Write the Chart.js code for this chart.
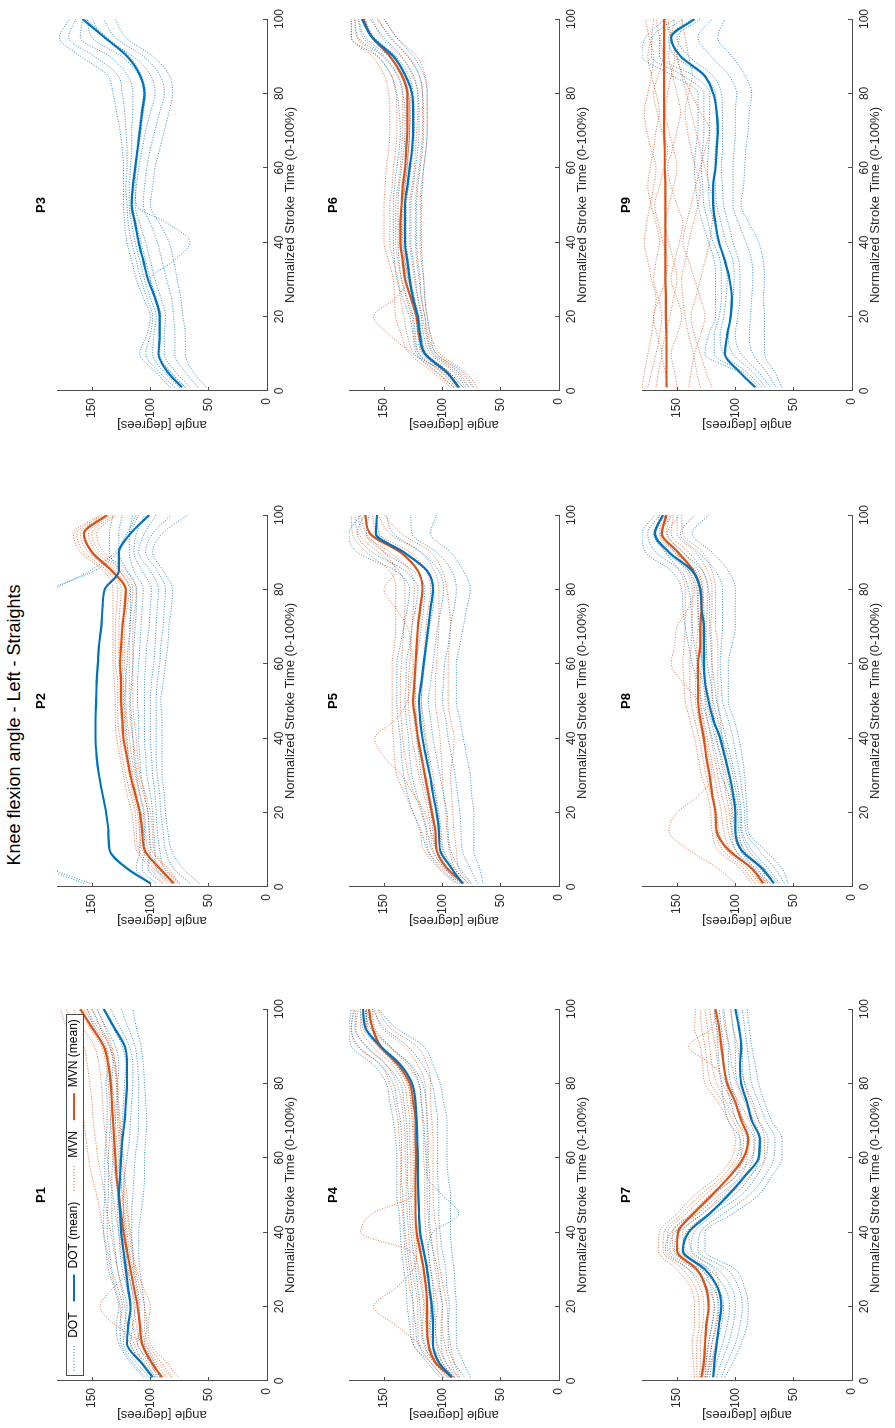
<!DOCTYPE html>
<html>
<head>
<meta charset="utf-8">
<title>Knee flexion angle - Left - Straights</title>
<script src="https://cdn.jsdelivr.net/npm/chart.js@4.4.1/dist/chart.umd.min.js"></script>
<style>
  html, body { margin: 0; padding: 0; background: #fff; }
  body { width: 895px; height: 1428px; overflow: hidden; position: relative; }
  /* the figure is laid out landscape and then turned a quarter to the left */
  #figure { position: absolute; left: 0; top: 0; width: 1428px; height: 895px;
            transform-origin: 0 0; transform: translate(0, 1428px) rotate(-90deg); }
  #figure canvas { position: absolute; }
  #suptitle { position: absolute; left: 0; top: 4px; width: 1406px; text-align: center;
              font: 18px "Liberation Sans", Arial, Helvetica, sans-serif; color: #000; }
</style>
</head>
<body>
<div id="figure">
  <div id="suptitle">Knee flexion angle - Left - Straights</div>
</div>
<script>
// shared x positions (normalized stroke time, %)
const strokeTime = [1, 5, 10, 15, 20, 25, 30, 35, 40, 45, 50, 55, 60, 65, 70, 75, 80, 85, 90, 95, 100];
const timeTicks = [0, 20, 40, 60, 80, 100];
const angleTicks = [0, 50, 100, 150];
const legendLabels = ['DOT', 'DOT (mean)', 'MVN', 'MVN (mean)'];

// P1
const dotMeanP1 = [98,108,120,119,117,119,121,123,125,126,127,126,125,124,122,121,120,120,122,131,140];
const mvnMeanP1 = [90,99,107,109,111,114,117,120,123,125,127,129,130,131,132,133,134,136,140,150,160];
const dotStrokesP1 = [
  [106,117,127,129,127,131,136,138,140,140,139,139,139,138,137,137,138,136,140,148,154],
  [104,115,125,126,124,128,133,135,137,137,136,136,136,135,134,133,133,132,135,143,150],
  [101,112,123,122,120,124,128,130,132,133,133,133,132,131,130,129,128,127,130,138,146],
  [99,108,120,118,117,120,124,126,127,128,128,128,126,125,124,123,122,121,124,132,140],
  [96,104,117,115,113,116,120,121,122,123,123,122,120,118,117,116,115,115,118,126,134],
  [94,100,111,109,109,111,114,115,116,116,115,114,113,111,110,110,110,111,113,119,125],
  [92,97,105,103,105,107,109,110,110,108,106,105,105,104,103,104,105,106,108,112,115]
];
const mvnStrokesP1 = [
  [97,109,117,125,126,130,134,137,140,143,146,150,153,155,157,159,161,163,166,172,177],
  [95,106,114,120,122,125,128,131,134,137,139,142,145,147,149,150,152,154,157,165,172],
  [92,102,111,115,117,120,122,125,127,130,132,135,137,138,140,141,142,144,148,158,166],
  [89,99,108,112,114,116,119,121,124,126,128,130,132,133,134,135,136,138,142,152,161],
  [86,96,104,108,110,112,115,118,120,122,124,125,126,127,128,128,129,131,135,145,155],
  [81,91,102,105,105,109,113,116,118,120,122,123,125,126,127,128,129,130,134,142,150],
  [76,86,100,102,100,106,112,115,117,119,120,122,123,125,126,127,128,130,133,139,145],
  [82,94,106,130,143,132,118,120,121,123,124,126,127,129,130,131,133,135,138,147,157]
];

// P2
const dotMeanP2 = [100,120,135,136,138,141,144,146,147,147,146.5,146,145,144,142,141,139,127,127,117,101];
const mvnMeanP2 = [80,92,105,107,109,113,117,120,123,124,125,125,126,125,124,122,121,133,150,157,137];
const dotStrokesP2 = [
  [100,112,109,109,109,113,117,119,120,121,122,121,120,119,117,117,117,126,135,135,132],
  [95,107,105,105,106,109,112,114,115,116,117,116,115,114,113,112,112,120,127,127,124],
  [90,102,100,101,102,105,108,109,110,110,111,111,110,109,108,107,106,114,118,118,115],
  [82,95,96,97,98,100,103,104,105,105,105,105,104,103,101,100,99,107,114,112,105],
  [75,88,92,94,95,96,98,99,100,100,100,99,97,96,95,94,93,100,110,105,95],
  [66,80,87,89,91,92,94,95,95,95,95,94,92,91,89,88,87,94,104,98,82],
  [58,72,82,85,87,88,90,90,90,90,91,89,87,85,84,82,81,89,98,90,68],
  [157,190,215,220,220,220,220,220,220,220,220,220,220,220,215,205,186,148,128,118,110],
  [152,185,205,210,212,212,212,212,212,212,212,212,212,212,208,198,182,152,130,120,112]
];
const mvnStrokesP2 = [
  [89,100,112,114,116,120,123,126,129,130,130,131,132,132,132,132,132,140,160,166,143],
  [86,97,110,112,113,117,121,124,126,128,128,128,130,130,130,129,128,137,157,163,141],
  [84,95,107,109,111,115,118,121,124,125,126,126,127,127,127,126,125,134,153,160,139],
  [81,93,104,106,108,112,115,118,121,122,123,123,124,124,124,123,121,130,150,157,137],
  [79,90,102,104,105,109,113,116,118,120,121,121,122,122,122,120,118,127,146,153,134],
  [77,87,99,101,102,106,111,113,115,117,118,118,118,118,118,116,115,124,143,150,131],
  [75,85,97,98,100,104,109,111,112,114,115,115,115,115,115,113,112,120,140,146,129]
];

// P3 (DOT only)
const dotMeanP3 = [73,85,93,92,92,96,102,106,110,113,116,115,113,111,109,107,105,109,120,139,158];
const mvnMeanP3 = [];
const dotStrokesP3 = [
  [83,95,109,103,100,106,112,116,120,122,123,123,123,124,126,129,132,137,160,178,169],
  [79,92,104,100,98,103,108,112,116,119,120,121,120,120,121,122,124,128,148,170,164],
  [75,88,98,97,95,100,105,109,113,116,118,118,117,116,116,115,115,120,135,160,158],
  [70,83,93,92,91,95,100,104,108,112,115,115,113,111,110,108,106,110,125,150,154],
  [66,78,88,88,87,91,96,100,104,109,113,112,110,107,104,100,96,100,115,140,150],
  [59,70,79,79,80,82,86,90,94,100,106,105,103,100,96,92,88,92,106,130,140],
  [52,63,70,70,72,74,77,80,84,92,100,98,96,92,88,84,81,84,98,121,130],
  [70,82,92,92,92,96,100,80,66,85,112,113,112,110,108,106,104,108,118,137,155]
];
const mvnStrokesP3 = [];

// P4
const dotMeanP4 = [92,103,108,108,109,111,113,116,119,120,120.5,121,121,121.5,122,123,126,136,153,166,168];
const mvnMeanP4 = [92,106,112,113,113,114,116,119,122,123,123,123,122.5,123,123,125,128,138,153,160,163];
const dotStrokesP4 = [
  [102,113,125,128,130,131,133,135,136,137,139,139,139,140,142,145,148,159,178,180,178],
  [99,110,121,123,125,126,128,130,132,133,134,135,135,135,136,139,142,153,172,178,176],
  [95,107,116,118,119,121,123,125,127,128,129,130,130,130,131,133,136,148,165,175,174],
  [90,102,108,110,110,112,114,116,119,120,121,121,121,121,122,123,126,137,155,168,170],
  [86,97,101,101,100,102,104,108,111,112,113,113,113,113,113,114,117,127,145,160,165],
  [81,90,95,95,94,96,97,100,102,103,103,104,104,104,104,106,109,117,130,150,160],
  [76,82,88,88,88,89,90,92,93,93,93,95,96,96,96,99,102,108,116,140,155],
  [90,100,105,106,107,108,110,112,108,86,100,113,114,115,116,118,120,128,146,162,166]
];
const mvnStrokesP4 = [
  [99,110,125,125,125,128,130,132,133,134,136,136,136,137,138,141,145,153,173,178,175],
  [96,107,120,121,121,123,126,128,129,130,131,131,132,132,133,135,139,148,166,174,172],
  [94,104,115,117,116,118,121,123,125,126,127,127,127,128,128,130,133,143,160,170,170],
  [91,100,109,111,110,113,116,118,120,120,121,121,122,122,122,124,126,136,152,164,165],
  [89,97,104,106,104,107,110,112,114,115,115,115,116,116,117,118,120,130,145,158,160],
  [87,93,98,100,100,103,106,108,110,111,111,111,112,112,113,114,115,121,133,152,158],
  [85,90,93,95,96,99,102,104,105,107,108,108,108,108,109,110,110,113,122,145,155],
  [92,105,120,140,159,140,125,122,122,123,124,124,124,124,125,127,130,140,155,165,165],
  [90,103,112,114,115,117,120,128,170,160,126,125,125,125,126,127,130,140,155,165,166]
];

// P5
const dotMeanP5 = [83,92,102,103,105,108,110.6,114,117,119,120,118,116,114,112,110,108,113,133,157,156];
const mvnMeanP5 = [82,96,105,106,109,112,115,118,121,123,125,124,123,122,121,119,117,121,136,162,166];
const dotStrokesP5 = [
  [88,102,113,118,125,130,133,135,136,138,139,139,139,136,133,130,128,140,173,180,170],
  [85,98,109,113,117,122,126,128,129,131,132,131,131,128,126,123,121,132,160,173,167],
  [82,95,105,108,110,114,118,120,122,124,125,124,123,120,118,116,115,125,150,165,163],
  [78,90,99,101,103,106,110,112,115,117,118,117,115,113,111,108,107,114,134,154,156],
  [75,85,93,95,96,99,102,105,108,110,112,110,108,106,104,101,99,103,118,142,148],
  [70,76,83,84,85,87,89,92,95,97,100,99,98,95,93,90,88,92,105,126,127],
  [65,68,73,73,73,75,76,79,82,85,88,88,88,85,82,79,76,82,93,110,105]
];
const mvnStrokesP5 = [
  [90,103,116,119,125,132,139,141,142,143,143,143,143,141,140,140,140,145,165,177,178],
  [87,100,112,114,118,124,129,132,134,135,136,136,135,134,133,132,132,137,155,172,175],
  [85,98,108,110,112,116,120,123,126,128,129,129,128,127,126,125,124,128,145,168,172],
  [82,95,104,106,108,111,114,117,120,122,123,123,122,121,120,118,117,121,136,162,166],
  [80,92,100,102,104,106,108,111,114,116,118,117,116,115,114,112,110,114,128,155,160],
  [78,89,94,96,97,99,100,101,102,104,106,106,105,104,103,103,103,107,119,145,155],
  [76,86,88,90,91,92,93,91,90,93,95,95,95,94,93,94,96,100,110,135,150],
  [82,95,105,110,115,125,135,150,158,140,130,127,125,127,130,140,150,140,150,165,170]
];

// P6
const dotMeanP6 = [86,96,115,119,121,125,128,130,132,132,132,130,128,126,125,125,126,132,142,160,169];
const mvnMeanP6 = [86,96,115,120,122,127,132,134,136,136,135,134,132,131,130,130,130,135,145,160,168];
const dotStrokesP6 = [
  [90,105,122,125,128,134,139,141,142,142,142,141,139,137,136,137,139,144,156,178,178],
  [88,101,120,123,125,130,135,137,138,138,138,137,135,133,132,132,134,139,151,172,175],
  [85,98,117,121,123,127,131,133,135,135,135,133,131,129,128,128,129,134,146,166,172],
  [82,94,113,118,120,124,127,129,131,131,131,129,127,125,124,124,125,129,140,158,167],
  [80,90,110,116,118,121,123,125,127,127,127,125,123,121,120,120,121,125,135,150,162],
  [77,86,107,113,115,118,119,121,122,122,122,121,119,117,116,116,117,120,130,144,156],
  [73,82,105,110,113,115,116,117,118,118,118,117,116,114,113,113,113,116,125,139,150]
];
const mvnStrokesP6 = [
  [93,108,128,135,140,141,142,146,150,150,150,149,148,146,145,145,146,150,160,178,178],
  [90,104,124,130,133,136,138,142,145,145,145,143,142,140,139,139,140,144,155,173,175],
  [86,100,120,124,126,131,135,138,140,140,140,138,136,135,134,134,134,138,150,168,172],
  [82,94,114,119,121,126,129,132,134,134,134,132,130,129,128,127,127,132,143,160,166],
  [78,88,108,114,117,121,124,126,128,128,128,126,124,123,122,121,121,126,136,152,160],
  [74,84,105,112,115,118,120,122,123,123,123,122,120,118,117,117,117,120,129,145,155],
  [70,80,102,110,113,115,116,118,119,119,119,118,116,114,113,113,113,115,122,139,150],
  [85,98,125,145,159,140,130,132,133,133,133,132,130,129,128,128,129,134,145,160,168]
];

// P7
const dotMeanP7 = [119,118,116,114,112,115,126,145,140,122,106,92,80,79,86,90,95,96,95,97,100];
const mvnMeanP7 = [129,127,126,125,123,125,133,150,149,136,120,105,93,89,95,100,107,110,112,114,117];
const dotStrokesP7 = [
  [126,125,123,120,118,124,140,160,155,137,120,100,95,96,106,110,112,114,115,116,118],
  [124,122,120,116,114,119,135,156,152,132,114,96,90,90,99,104,108,110,110,112,114],
  [122,120,116,112,110,115,130,152,148,128,108,92,85,84,93,98,104,106,106,108,110],
  [119,116,111,107,105,109,122,145,142,123,101,87,79,78,86,91,98,100,100,102,104],
  [116,112,106,102,100,103,115,138,135,118,95,82,74,72,80,85,92,94,94,96,98],
  [112,107,100,96,94,97,107,132,130,110,88,75,67,66,74,80,86,88,90,92,94],
  [109,102,95,90,89,92,100,126,126,102,80,69,60,60,69,75,80,83,86,88,90]
];
const mvnStrokesP7 = [
  [135,136,137,135,135,138,150,166,165,150,135,115,103,100,106,115,126,128,130,135,134],
  [133,133,133,131,131,134,145,162,161,146,130,111,99,96,102,111,121,124,126,129,130],
  [131,130,130,128,127,130,140,158,158,142,126,108,96,93,99,108,116,120,122,124,126],
  [129,127,126,124,122,125,134,153,154,138,122,104,91,88,93,102,111,115,117,120,122],
  [128,125,123,120,118,121,128,148,150,134,118,100,86,83,88,97,106,110,113,116,118],
  [126,123,120,117,115,117,123,142,145,128,111,94,80,79,84,92,99,103,105,109,111],
  [125,121,117,114,112,114,118,137,140,123,105,88,75,75,80,87,92,96,98,102,104],
  [130,128,126,124,123,126,133,150,150,136,120,105,93,89,94,100,107,120,140,120,117]
];

// P8
const dotMeanP8 = [67,77,95,100,100,102,105,109,113,119,123,126,127,127,127,129,130,137,157,169,162];
const mvnMeanP8 = [76,86,106,116,117,120,122,125,127,130,132,132,132,130,130,129,130,136,149,163,159];
const dotStrokesP8 = [
  [72,86,100,103,103,106,112,116,120,124,129,132,137,140,143,145,146,155,177,180,169],
  [70,83,96,100,100,103,108,112,117,121,125,128,132,135,137,138,140,147,168,175,165],
  [67,79,93,97,98,101,105,109,114,118,122,125,128,130,131,132,133,140,160,170,160],
  [64,75,89,95,96,99,102,106,111,115,119,121,124,125,126,127,128,134,152,164,154],
  [62,72,86,94,95,97,100,104,108,112,116,118,120,121,122,122,123,128,145,158,148],
  [58,66,80,91,92,94,96,99,102,106,111,112,113,112,111,111,111,117,132,147,135],
  [55,60,75,89,90,91,92,94,97,101,106,106,106,103,100,100,100,106,120,137,123]
];
const mvnStrokesP8 = [
  [86,96,115,120,121,124,129,132,135,139,143,144,145,144,143,143,143,148,160,168,165],
  [83,93,111,117,118,121,125,128,131,135,138,139,139,138,137,137,137,142,155,165,162],
  [80,90,108,114,116,119,122,125,128,131,134,134,133,133,132,132,132,137,150,163,160],
  [78,87,104,110,112,115,118,121,124,127,130,130,129,129,128,128,128,132,145,159,156],
  [76,84,100,106,108,112,115,118,121,124,126,126,126,125,125,124,124,128,140,155,153],
  [74,81,96,103,105,108,110,113,116,118,120,120,120,120,121,120,120,124,134,150,150],
  [72,78,92,100,102,104,106,108,111,113,115,115,115,115,117,117,117,120,128,145,146],
  [100,115,140,157,150,130,120,123,126,128,132,145,155,152,150,140,135,140,152,163,160]
];

// P9
const dotMeanP9 = [83,96,109,107,104,103,105,109,114,117,119,119,117,116,115,116,119,127,147,155,135];
const mvnMeanP9 = [159,159,159,159,159.5,159.5,160,160,160,160,160,160,160.5,160.5,161,161,161,161,161,161,161];
const dotStrokesP9 = [
  [83,97,126,123,117,117,117,118,123,128,132,134,135,134,132,132,132,155,180,177,160],
  [80,93,118,118,114,112,112,113,119,123,127,128,129,128,127,127,127,146,172,171,152],
  [77,90,110,113,110,108,107,108,115,118,122,123,124,123,122,122,122,137,165,165,145],
  [74,85,102,106,104,102,101,102,108,112,116,117,118,117,116,116,117,128,152,157,137],
  [70,80,95,100,98,96,96,97,102,106,110,111,112,111,111,111,112,120,140,150,130],
  [65,73,85,88,87,86,85,86,91,97,102,102,102,101,100,100,99,106,121,132,120],
  [60,66,75,75,75,76,75,76,80,88,95,93,92,91,89,88,86,92,103,115,109]
];
const mvnStrokesP9 = [
  [180,178,175,172,170,168,172,175,178,176,173,170,168,172,176,178,175,172,170,174,177],
  [175,172,168,165,163,166,170,168,165,168,172,175,173,170,168,165,168,172,175,172,170],
  [168,166,163,167,170,165,160,158,162,166,169,165,161,158,163,167,170,166,162,165,168],
  [158,160,163,160,156,153,150,153,157,160,157,153,150,153,157,160,158,155,152,155,158],
  [150,152,155,150,146,150,155,152,148,145,150,155,158,154,150,147,150,154,157,155,152],
  [140,138,135,130,126,130,135,140,145,142,138,134,130,126,122,130,138,145,150,148,145],
  [130,133,136,140,143,145,146,143,140,136,132,130,134,138,141,143,140,137,140,143,146],
  [120,125,130,135,138,134,130,126,122,120,118,122,126,130,134,138,142,146,150,155,160]
];

const panels = [
  { name: 'P1', dotMean: dotMeanP1, mvnMean: mvnMeanP1, dotStrokes: dotStrokesP1, mvnStrokes: mvnStrokesP1 },
  { name: 'P2', dotMean: dotMeanP2, mvnMean: mvnMeanP2, dotStrokes: dotStrokesP2, mvnStrokes: mvnStrokesP2 },
  { name: 'P3', dotMean: dotMeanP3, mvnMean: mvnMeanP3, dotStrokes: dotStrokesP3, mvnStrokes: mvnStrokesP3 },
  { name: 'P4', dotMean: dotMeanP4, mvnMean: mvnMeanP4, dotStrokes: dotStrokesP4, mvnStrokes: mvnStrokesP4 },
  { name: 'P5', dotMean: dotMeanP5, mvnMean: mvnMeanP5, dotStrokes: dotStrokesP5, mvnStrokes: mvnStrokesP5 },
  { name: 'P6', dotMean: dotMeanP6, mvnMean: mvnMeanP6, dotStrokes: dotStrokesP6, mvnStrokes: mvnStrokesP6 },
  { name: 'P7', dotMean: dotMeanP7, mvnMean: mvnMeanP7, dotStrokes: dotStrokesP7, mvnStrokes: mvnStrokesP7 },
  { name: 'P8', dotMean: dotMeanP8, mvnMean: mvnMeanP8, dotStrokes: dotStrokesP8, mvnStrokes: mvnStrokesP8 },
  { name: 'P9', dotMean: dotMeanP9, mvnMean: mvnMeanP9, dotStrokes: dotStrokesP9, mvnStrokes: mvnStrokesP9 }
];

// look
const DOT_BLUE = '#0072BD';
const MVN_ORANGE = '#D95319';
const dotStrokeColor = 'rgba(0,114,189,0.8)';
const mvnStrokeColor = 'rgba(217,83,25,0.8)';
const axisColor = '#4d4d4d';
const textColor = '#262626';
const fontFamily = '"Liberation Sans", Arial, Helvetica, sans-serif';

// panel geometry in the landscape frame
const panelLeft = [47, 541, 1037];
const panelTop = [57, 349, 642];
const plotW = 376, plotH = 210;
const yAxisW = 47, titleH = 30, xAxisH = 43, padRight = 15;

Chart.defaults.font.family = fontFamily;
Chart.defaults.color = textColor;

function toPoints(values) {
  return values.map((v, i) => ({ x: strokeTime[i], y: v }));
}

function strokeSet(values, color) {
  return {
    data: toPoints(values),
    borderColor: color,
    borderWidth: 1,
    borderDash: [1, 1.6],
    pointRadius: 0,
    cubicInterpolationMode: 'monotone',
    order: 2
  };
}

function meanSet(label, values, color, order) {
  return {
    label: label,
    data: toPoints(values),
    borderColor: color,
    borderWidth: 2.2,
    pointRadius: 0,
    cubicInterpolationMode: 'monotone',
    order: order
  };
}

// legend sits inside the plot of P1, in a white framed box drawn over the lines
const legendFrame = {
  id: 'legendFrame',
  afterLayout(chart) {
    const lg = chart.legend;
    const area = chart.chartArea;
    const shift = (area.left + area.right) / 2 - (lg.left + lg.right) / 2;
    lg.left += shift;
    lg.right += shift;
    lg.top = area.top;
    lg.height = 30;
    lg.bottom = area.top + 30;
  },
  afterDatasetsDraw(chart) {
    const legend = chart.legend;
    const hits = legend.legendHitBoxes;
    if (!hits || !hits.length) return;
    const first = hits[0], last = hits[hits.length - 1];
    const x1 = Math.round(first.left - 5), x2 = Math.round(last.left + last.width + 4);
    const y1 = Math.round(first.top + first.height / 2 - 8.5);
    const ctx = chart.ctx;
    ctx.save();
    ctx.fillStyle = '#fff';
    ctx.fillRect(x1, y1, x2 - x1, 17);
    ctx.strokeStyle = axisColor;
    ctx.lineWidth = 1;
    ctx.strokeRect(x1 + 0.5, y1 + 0.5, x2 - x1, 17);
    ctx.restore();
    legend.draw();
  }
};

const legendOptions = {
  display: true,
  position: 'top',
  maxHeight: 0.01, // takes no room, the box is moved into the plot afterwards
  labels: {
    usePointStyle: true,
    pointStyleWidth: 27,
    boxHeight: 12,
    padding: 11,
    color: '#000',
    font: { size: 12 },
    generateLabels: () => legendLabels.map((text, i) => ({
      text: text,
      pointStyle: 'line',
      strokeStyle: i < 2 ? DOT_BLUE : MVN_ORANGE,
      fillStyle: i < 2 ? DOT_BLUE : MVN_ORANGE,
      lineWidth: i % 2 ? 2 : 1,
      lineDash: i % 2 ? [] : [1, 2],
      fontColor: '#000',
      hidden: false
    }))
  }
};

const figure = document.getElementById('figure');

panels.forEach((p, k) => {
  const col = k % 3, row = Math.floor(k / 3);
  const canvas = document.createElement('canvas');
  canvas.width = yAxisW + plotW + padRight;
  canvas.height = titleH + plotH + xAxisH;
  canvas.style.left = (panelLeft[col] - yAxisW) + 'px';
  canvas.style.top = (panelTop[row] - titleH) + 'px';
  figure.appendChild(canvas);

  const datasets = [];
  if (p.dotMean.length) datasets.push(meanSet('DOT (mean)', p.dotMean, DOT_BLUE, 0));
  if (p.mvnMean.length) datasets.push(meanSet('MVN (mean)', p.mvnMean, MVN_ORANGE, 1));
  p.dotStrokes.forEach(s => datasets.push(strokeSet(s, dotStrokeColor)));
  p.mvnStrokes.forEach(s => datasets.push(strokeSet(s, mvnStrokeColor)));

  new Chart(canvas, {
    type: 'line',
    data: { datasets: datasets },
    options: {
      responsive: false,
      animation: false,
      layout: { padding: { right: padRight } },
      scales: {
        x: {
          type: 'linear',
          min: timeTicks[0],
          max: timeTicks[timeTicks.length - 1],
          afterFit: (scale) => { scale.height = xAxisH; },
          afterBuildTicks: (scale) => { scale.ticks = timeTicks.map(v => ({ value: v })); },
          border: { color: axisColor, width: 1 },
          grid: { drawOnChartArea: false, tickLength: -4, color: axisColor },
          ticks: { padding: 9, maxRotation: 0, color: textColor, font: { size: 12 } },
          title: {
            display: true,
            text: 'Normalized Stroke Time (0-100%)',
            color: textColor,
            font: { size: 13 },
            padding: { top: 0, bottom: 12 }
          }
        },
        y: {
          min: 0,
          max: 180,
          afterFit: (scale) => { scale.width = yAxisW; },
          afterBuildTicks: (scale) => { scale.ticks = angleTicks.map(v => ({ value: v })); },
          border: { color: axisColor, width: 1 },
          grid: { drawOnChartArea: false, tickLength: -4, color: axisColor },
          ticks: { padding: 11, color: textColor, font: { size: 12 } },
          title: {
            display: true,
            text: 'angle [degrees]',
            color: textColor,
            font: { size: 13 },
            padding: { top: 6, bottom: 0 }
          }
        }
      },
      plugins: {
        title: {
          display: true,
          text: p.name,
          fullSize: false,
          color: '#000',
          font: { size: 13, weight: 'bold' },
          padding: { top: 7, bottom: 7.4 }
        },
        legend: k === 0 ? legendOptions : { display: false },
        tooltip: { enabled: false }
      }
    },
    plugins: k === 0 ? [legendFrame] : []
  });
});
</script>
</body>
</html>
